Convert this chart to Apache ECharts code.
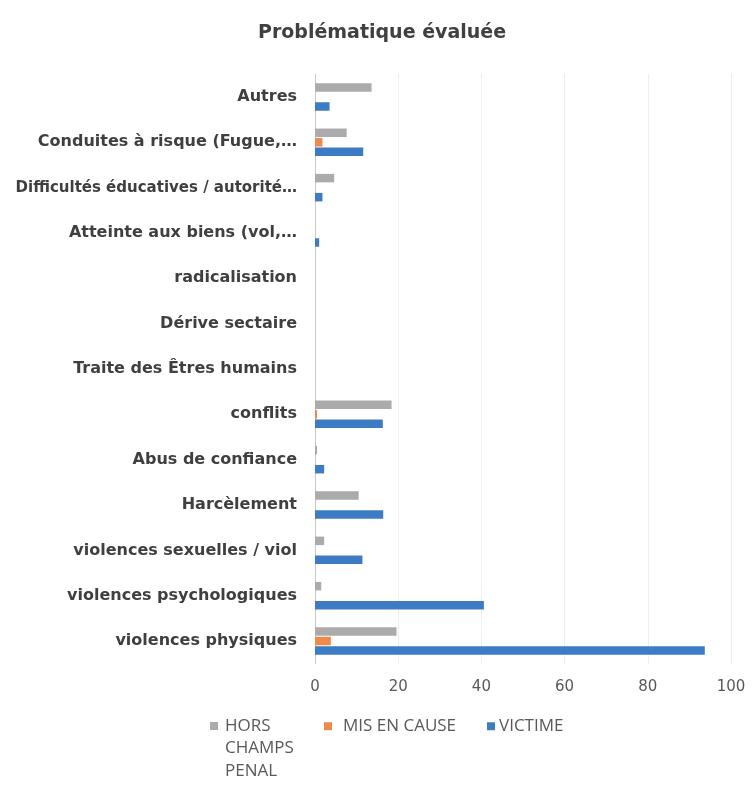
<!DOCTYPE html>
<html>
<head>
<meta charset="utf-8">
<script src="https://cdn.jsdelivr.net/npm/echarts@6/dist/echarts.min.js"></script>
<style>html,body{margin:0;padding:0;background:#fff}#c{width:756px;height:796px}</style>
</head>
<body>
<div id="c"></div>
<script>
// categories listed bottom to top
const categories = [
  'violences physiques',
  'violences psychologiques',
  'violences sexuelles / viol',
  'Harcèlement',
  'Abus de confiance',
  'conflits',
  'Traite des Êtres humains',
  'Dérive sectaire',
  'radicalisation',
  'Atteinte aux biens (vol,…',
  'Difficultés éducatives / autorité…',
  'Conduites à risque (Fugue,…',
  'Autres'
];
const horsChampsPenal = [19.6, 1.5, 2.2, 10.5, 0.5, 18.4, 0, 0, 0, 0, 4.6, 7.6, 13.6];
const misEnCause      = [3.8, 0, 0, 0, 0, 0.5, 0, 0, 0, 0, 0, 1.8, 0];
const victime         = [93.7, 40.6, 11.4, 16.4, 2.2, 16.3, 0, 0, 0, 1, 1.8, 11.6, 3.5];
const xTicks = [0, 20, 40, 60, 80, 100];
const seriesNames = ['HORS CHAMPS PENAL', 'MIS EN CAUSE', 'VICTIME'];

const chart = echarts.init(document.getElementById('c'));
const legendText = {fontFamily: 'Open Sans', fontSize: 17, color: '#595959', lineHeight: 22.5};
const labelFont = {fontFamily: 'DejaVu Sans', fontWeight: 'bold', color: '#3f3f3f'};
chart.setOption({
  animation: false,
  title: {
    text: 'Problématique évaluée',
    left: 377, top: 19, textAlign: 'center',
    textStyle: {fontFamily: 'DejaVu Sans', fontWeight: 'bold', fontSize: 19, color: '#404040'}
  },
  legend: [
    {data: [seriesNames[0]], left: 210, top: 669.75, padding: 0, itemWidth: 8, itemHeight: 8, icon: 'rect',
     formatter: n => '\n\nHORS\nCHAMPS\nPENAL',
     textStyle: Object.assign({}, legendText, {padding: [0, 0, 0, 2]})},
    {data: [seriesNames[1]], left: 324, top: 715, padding: 0, itemWidth: 8, itemHeight: 8, icon: 'rect',
     textStyle: Object.assign({}, legendText, {padding: [0, 0, 0, 6]})},
    {data: [seriesNames[2]], left: 487, top: 715, padding: 0, itemWidth: 8, itemHeight: 8, icon: 'rect',
     textStyle: Object.assign({}, legendText, {padding: [0, 0, 0, -1]})}
  ],
  grid: {left: 315, right: 25, top: 74.3, bottom: 132.3, containLabel: false, outerBoundsMode: 'none'},
  xAxis: {
    type: 'value', min: xTicks[0], max: xTicks[xTicks.length - 1], interval: 20,
    axisLine: {show: false}, axisTick: {show: false},
    axisLabel: {margin: 16, fontFamily: 'DejaVu Sans', fontSize: 15, color: '#595959'},
    splitLine: {show: true, lineStyle: {color: '#dcdcdc', type: 'dotted', width: 1}}
  },
  yAxis: {
    type: 'category', data: categories,
    axisLine: {show: true, lineStyle: {color: '#c8c8c8', width: 1}},
    axisTick: {show: false},
    axisLabel: Object.assign({
      margin: 18, fontSize: 16, interval: 0,
      formatter: v => v.length > 30 ? '{s|' + v + '}' : v,
      rich: {s: Object.assign({fontSize: 15}, labelFont)}
    }, labelFont)
  },
  series: [
    {name: seriesNames[0], type: 'bar', data: horsChampsPenal, barWidth: 8.5, barGap: '12%', itemStyle: {color: '#ABABAB'}},
    {name: seriesNames[1], type: 'bar', data: misEnCause, barWidth: 8.5, barGap: '12%', itemStyle: {color: '#EC8B4C'}},
    {name: seriesNames[2], type: 'bar', data: victime, barWidth: 8.5, barGap: '12%', itemStyle: {color: '#3D7CC2'}}
  ]
});
</script>
</body>
</html>
